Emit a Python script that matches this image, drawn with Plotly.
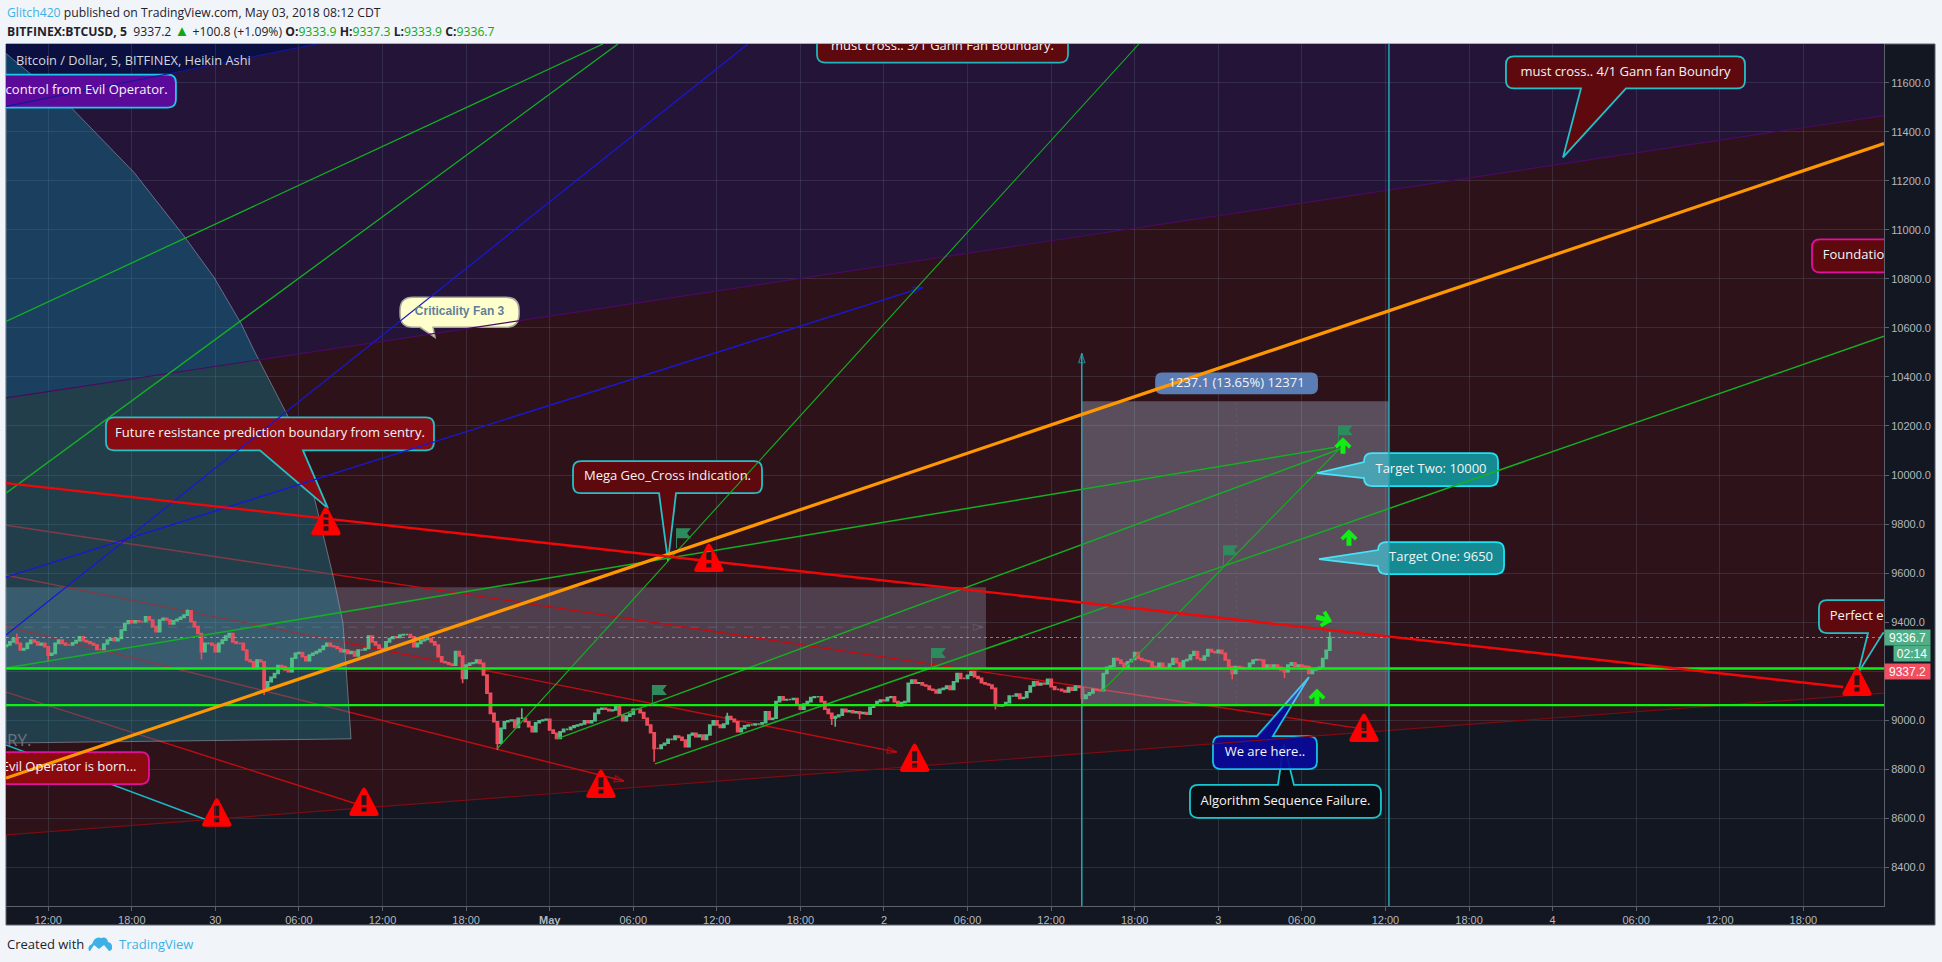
import math
import pandas as pd
import plotly.graph_objects as go

# ---------- time base: every x value below is "hours after 29 Apr 2018 12:00" ----------
BASE = pd.Timestamp("2018-04-29 12:00")
X_RANGE_H = [-3.03, 131.79]
Y_RANGE = [8241, 11759]

TICK_H = [0, 6, 12, 18, 24, 30, 36, 42, 48, 54, 60, 66, 72, 78, 84, 90, 96, 102, 108, 114, 120, 126]
TICK_TEXT = ["12:00", "18:00", "30", "06:00", "12:00", "18:00", "<b>May</b>", "06:00", "12:00", "18:00",
             "2", "06:00", "12:00", "18:00", "3", "06:00", "12:00", "18:00", "4", "06:00", "12:00", "18:00"]
Y_TICKS = [8400, 8600, 8800, 9000, 9200, 9400, 9600, 9800, 10000, 10200, 10400, 10600, 10800, 11000, 11200, 11400, 11600]

# ---------- BTCUSD closes, one per 15 minutes, starting at h = -3 ----------
CLOSE = [
 9306,9319,9333,9313,9286,9292,9313,9326,9319,9306,9313,9299,9265,9272,9313,9326,
 9313,9306,9306,9315,9324,9340,9324,9319,9313,9306,9288,9288,9310,9326,9333,9324,
 9333,9367,9394,9405,9397,9405,9401,9401,9421,9408,9381,9360,9408,9415,9408,9392,
 9405,9411,9419,9428,9446,9401,9381,9353,9279,9313,9313,9306,9279,9313,9326,9343,
 9353,9319,9313,9313,9286,9245,9238,9211,9245,9238,9129,9156,9174,9190,9222,9218,
 9204,9197,9252,9272,9275,9258,9242,9265,9272,9279,9288,9302,9313,9302,9299,9292,
 9279,9286,9272,9279,9261,9286,9286,9292,9343,9319,9306,9292,9286,9319,9333,9340,
 9337,9347,9349,9349,9340,9299,9313,9324,9329,9333,9319,9306,9258,9238,9234,9228,
 9224,9279,9261,9170,9224,9231,9234,9245,9231,9184,9109,9027,8993,8905,8966,8993,
 8997,9000,8970,9007,9007,8993,8973,8952,8989,8997,9000,9003,8959,8946,8925,8952,
 8962,8962,8970,8976,8980,8984,8997,8989,8997,9027,9044,9048,9044,9038,9041,9057,
 9020,8997,9016,9024,9044,9044,9030,9007,8980,8948,8884,8884,8898,8905,8921,8921,
 8935,8929,8918,8891,8939,8946,8932,8939,8921,8939,8980,8997,8980,8970,8984,9014,
 9003,8993,8952,8966,8976,8980,8980,8984,8984,8989,9034,9003,9007,9075,9095,9082,
 9084,9084,9088,9061,9044,9065,9075,9092,9095,9095,9075,9044,9027,9007,9014,9020,
 9044,9034,9038,9030,9034,9027,9030,9024,9052,9061,9075,9082,9079,9092,9095,9075,
 9057,9071,9075,9150,9163,9150,9152,9143,9139,9125,9122,9111,9125,9129,9139,9125,
 9156,9190,9170,9170,9183,9197,9177,9170,9152,9147,9143,9129,9061,9057,9061,9071,
 9098,9098,9106,9088,9092,9115,9139,9156,9143,9150,9147,9166,9136,9125,9125,9120,
 9115,9133,9122,9139,9133,9088,9102,9111,9125,9122,9120,9190,9215,9220,9251,9245,
 9231,9211,9238,9247,9275,9251,9245,9242,9238,9218,9215,9231,9215,9215,9228,9251,
 9234,9215,9242,9247,9265,9279,9251,9245,9261,9288,9279,9275,9285,9272,9245,9218,
 9190,9218,9215,9211,9211,9231,9245,9247,9245,9211,9224,9215,9224,9215,9204,9197,
 9224,9234,9220,9224,9220,9218,9190,9204,9207,9215,9251,9285,9336.7,
]
HIGH_WICKS = {3: 9353, 52: 9452, 148: 9048, 207: 9030, 380: 9360}
LOW_WICKS = {12: 9238, 56: 9247, 74: 9102, 131: 9150, 141: 8878, 186: 8830, 237: 8980,
             238: 8973, 245: 9003, 284: 9043, 309: 9068, 352: 9166, 367: 9170}

# ---------- drawn objects (hours, price) ----------
NAVY_H, NAVY_P = [-3.03, 19.3, -3.03], [11504, 11759, 11759]
PURPLE_H, PURPLE_P = [-3.03, 131.79, 131.79, -3.03], [10315, 11467, 11759, 11759]
FAN_H, FAN_P = [-3.03, 131.79, 131.79, -3.03], [8531, 9110, 11467, 10315]
FAN_TOP_H, FAN_TOP_P = [-3.03, 131.79], [10315, 11467]
FAN_LOW_H, FAN_LOW_P = [-3.03, 131.79], [8531, 9110]
NAVY_EDGE_H, NAVY_EDGE_P = [-3.03, 19.3], [11504, 11759]

FIB_H = [-3.03, 1.64, 6.16, 9.82, 11.9, 13.84, 14.77, 17.36, 19.15, 20.52, 21.16, 21.74, -3.03]
FIB_P = [11720, 11500, 11235, 10970, 10807, 10619, 10509, 10223, 9897, 9571, 9396, 8923, 8906]
RECT1_H, RECT1_P = [-3.03, 67.32, 67.32, -3.03], [9542, 9542, 9210, 9210]
RECT2_H, RECT2_P = [74.2, 96.25, 96.25, 74.2], [10301, 10301, 9061, 9061]

RED_MAIN_H, RED_MAIN_P = [-3.03, 128.85], [9967, 9135]
RED_A_H, RED_A_P = [-3.03, 94.5], [9795, 8963]
RED_B_H, RED_B_P = [-3.03, 60.93], [9591, 8869]
RED_C_H, RED_C_P = [-3.03, 41.34], [9383, 8751]
RED_D_H, RED_D_P = [-3.03, 22.6], [9114, 8649]
ORANGE_H, ORANGE_P = [-3.03, 131.79], [8763, 11353]
GREEN1_H, GREEN1_P = [-3.03, 92.37], [9212, 10113]
GREEN2_H, GREEN2_P = [32.22, 78.3], [8882, 11759]
GREEN2B_H, GREEN2B_P = [75.65, 92.73], [9118, 10109]
GREEN3_H, GREEN3_P = [36.52, 92.88], [8923, 10109]
GREEN4_H, GREEN4_P = [43.56, 131.79], [8821, 10566]
GREEN5_H, GREEN5_P = [-3.03, 39.83], [10627, 11759]
GREEN6_H, GREEN6_P = [-3.03, 40.9], [9926, 11759]
BLUE1_H, BLUE1_P = [-3.03, 50.23], [9347, 11759]
BLUE2_H, BLUE2_P = [-3.03, 62.8], [9583, 10766]
EVIL_TAIL_H, EVIL_TAIL_P = [-3.03, 11.4], [8898, 8592]
H_LEVELS = [9210, 9061]
LAST_PRICE = 9336.7
DASH_H, DASH_P = [-3.03, 67.1], [9379, 9379]
VLINE1_H, VLINE1_P = [74.2, 74.2], [8241, 10497]
VLINE2_H, VLINE2_P = [96.25, 96.25], [8241, 11759]
VDOT_H, VDOT_P = [85.3, 85.3], [9061, 10301]

WARN_H = [19.94, 12.1, 22.67, 39.68, 47.43, 62.2, 94.46, 129.85]
WARN_P = [9754, 8564, 8608, 8682, 9604, 8788, 8910, 9098]
FLAG_H = [43.34, 63.37, 45.07, 84.34, 92.59]
FLAG_P = [9061, 9212, 9701, 9632, 10121]
ARROW_H = [92.95, 93.38, 91.58, 91.08]
ARROW_P = [10119, 9744, 9412, 9094]
ARROW_ROT = [0, 0, 105, 0]

# callouts: text, box centre (h, price), text centre (h, price)
CALL_TEXT = ["must cross.. 3/1 Gann Fan Boundary.", "must cross.. 4/1 Gann fan Boundry",
             "Future resistance prediction boundary from sentry.", "Mega Geo_Cross indication.",
             "Target Two: 10000", "Target One: 9650", "Algorithm Sequence Failure.", "We are here..",
             "Evil Operator is born...", "control from Evil Operator.", "1237.1 (13.65%) 12371"]
CALL_H = [64.2, 113.23, 15.92, 44.46, 99.27, 99.99, 88.82, 87.35, -0.59, -1.6, 85.31]
CALL_P = [11773, 11643, 10168, 9991, 10022, 9661, 8668, 8867, 8804, 11567, 10374]
TEXT_H = [64.2, 113.23, 15.92, 44.46, 99.27, 99.99, 88.82, 87.35, 1.5, 2.76, 85.31]
TEXT_P = [11749, 11643, 10168, 9991, 10022, 9661, 8668, 8867, 8804, 11567, 10374]
EDGE_TEXT = ["Foundation", "Perfect e"]
EDGE_BOX_H, EDGE_BOX_P = [133.8, 134.3], [10894, 9422]
EDGE_TEXT_H = [127.4, 127.9]
CRIT_TEXT, CRIT_H, CRIT_P = "Criticality Fan 3", 29.53, 10664

# ---------- styling (pixel sizes relative to each anchor) ----------
CALL_STYLE = [
    dict(w=125.5, h=22, fill="#5e090e", line="#23b5bd", tail=None),
    dict(w=119.5, h=16, fill="#5e090e", line="#23c0c8", tail=("bottom", -44.5, 0.5, -62.5, -85)),
    dict(w=164, h=16.5, fill="#8a0c12", line="#23c0c8", tail=("bottom", -10, 33, 58, -74.5)),
    dict(w=94.5, h=16, fill="#5e090e", line="#23c0c8", tail=("bottom", -8.5, 8.5, 0.5, -84)),
    dict(w=67, h=16.5, fill="#168a92", line="#18e4f4", tail=("left", -8.5, 7.5, -114, -3.5)),
    dict(w=63, h=16, fill="#168a92", line="#18e4f4", tail=("left", -8, 8, -122, -1)),
    dict(w=95.5, h=16.5, fill="#0a0d13", line="#18c8d0", tail=("top", -7.5, 8.5, -1.5, 57.5)),
    dict(w=52, h=16.5, fill="rgba(10,10,154,0.92)", line="#15c0e8", tail=("top", -8, 8, 44, 75.5)),
    dict(w=109, h=16, fill="#8a0a10", line="#e0109a", tail=None),
    dict(w=150, h=16.5, fill="#5c0a9a", line="#20c8e8", tail=None),
    dict(w=80.5, h=10, fill="#5a7db5", line="#5a7db5", tail=None),
]
EDGE_STYLE = [
    dict(w=100, h=16.5, fill="#5e090e", line="#e010a0", tail=None),
    dict(w=100, h=16.5, fill="#5e090e", line="#23c0c8", tail=("bottom", -51, -36, -61, -56.5)),
]
CRIT_STYLE = dict(w=59.5, h=15, fill="#ffffcc", line="#a8a89c", tail=("bottom", -39.5, -26.5, -24.5, -25))

UP, DOWN = "#53b987", "#eb4d5c"
FONT = "Open Sans"


def T(h):
    return (BASE + pd.to_timedelta(h, unit="h")).strftime("%Y-%m-%d %H:%M:%S")


def TS(hs):
    return [T(h) for h in hs]


def region(hs, ps, color, layer="below", edge=None):
    pts = [f"{T(h).replace(' ', '_')},{p}" for h, p in zip(hs, ps)]
    return dict(type="path", xref="x", yref="y", layer=layer, fillcolor=color,
                line=dict(color=edge or "rgba(0,0,0,0)", width=1 if edge else 0),
                path="M" + " L".join(pts) + " Z")


def seg(hs, ps, color, width, layer="between"):
    return dict(type="line", xref="x", yref="y", layer=layer, x0=T(hs[0]), x1=T(hs[1]), y0=ps[0], y1=ps[1],
                line=dict(color=color, width=width))


def box_path(w, h, r=7, tail=None):
    side, a, b, tx, ty = tail if tail else (None, 0, 0, 0, 0)
    p = [f"M {-w + r} {h}"]
    if side == "top":
        p.append(f"L {a} {h} L {tx} {ty} L {b} {h}")
    p.append(f"L {w - r} {h} Q {w} {h} {w} {h - r} L {w} {-h + r} Q {w} {-h} {w - r} {-h}")
    if side == "bottom":
        p.append(f"L {b} {-h} L {tx} {ty} L {a} {-h}")
    p.append(f"L {-w + r} {-h} Q {-w} {-h} {-w} {-h + r}")
    if side == "left":
        p.append(f"L {-w} {a} L {tx} {ty} L {-w} {b}")
    p.append(f"L {-w} {h - r} Q {-w} {h} {-w + r} {h} Z")
    return " ".join(p)


def anchored(h, p, path, fill, line="rgba(0,0,0,0)", lw=0, layer="between"):
    return dict(type="path", xref="x", yref="y", xsizemode="pixel", ysizemode="pixel",
                xanchor=T(h), yanchor=p, path=path, fillcolor=fill, layer=layer,
                line=dict(color=line, width=lw))


def px(x):
    return (x - 6) / 1878


def py(y):
    return (906 - y) / 862.5


WARN_PATH = ("M -12 0 Q -16 0 -14 4 L -2 27 Q 0 30 2 27 L 14 4 Q 16 0 12 0 Z "
             "M -2.5 11 L 2.5 11 L 2.5 21 L -2.5 21 Z M -2.5 4.5 L 2.5 4.5 L 2.5 9 L -2.5 9 Z")
FLAG_PATH = "M 0 0 L 1 0 L 1 10 L 15 10 L 11 15 L 15 20 L 0 20 Z"
ARROW_PTS = [(0, 8.5), (8.5, 0), (6, -2.8), (2.5, 0.6), (2.5, -8), (-2.5, -8), (-2.5, 0.6), (-6, -2.8), (-8.5, 0)]


def arrow_path(deg):
    a = math.radians(deg)
    pts = [(x * math.cos(a) + y * math.sin(a), -x * math.sin(a) + y * math.cos(a)) for x, y in ARROW_PTS]
    return "M " + " L ".join(f"{x:.2f} {y:.2f}" for x, y in pts) + " Z"


# ---------- figure ----------
fig = go.Figure()

opens = [9300] + CLOSE[:-1]
candle_h = [-3 + i * 0.25 for i in range(len(CLOSE))]
highs = [max(o, c, HIGH_WICKS.get(i, 0)) for i, (o, c) in enumerate(zip(opens, CLOSE))]
lows = [min(o, c, LOW_WICKS.get(i, 99999)) for i, (o, c) in enumerate(zip(opens, CLOSE))]
fig.add_trace(go.Candlestick(
    x=TS(candle_h), open=opens, high=highs, low=lows, close=CLOSE, whiskerwidth=0,
    increasing=dict(line=dict(color=UP, width=1.6), fillcolor=UP),
    decreasing=dict(line=dict(color=DOWN, width=1.6), fillcolor=DOWN), hoverinfo="skip"))


def line(hs, ps, color, width=1.0, dash=None, arrow=False):
    if arrow:
        kw = dict(mode="lines+markers",
                  marker=dict(symbol="arrow-open", size=[0, 10], angleref="previous",
                              color=color, line=dict(color=color, width=1.2)))
    else:
        kw = dict(mode="lines")
    fig.add_trace(go.Scatter(x=TS(hs), y=ps, line=dict(color=color, width=width, dash=dash), hoverinfo="skip", **kw))


def arrow_only(hs, ps, color):
    fig.add_trace(go.Scatter(x=TS(hs), y=ps, mode="markers", hoverinfo="skip",
                             marker=dict(symbol="arrow-open", size=[0, 10], angleref="previous",
                                         color=color, line=dict(color=color, width=1.2))))


fig.add_trace(go.Scatter(x=[T(-2.96)], y=[8910], mode="text", text=["RY."], textposition="middle right",
                         textfont=dict(color="#6d7480", size=17, family=FONT), hoverinfo="skip"))
arrow_only(RED_B_H, RED_B_P, "#c00d12")
arrow_only(RED_C_H, RED_C_P, "#c00d12")
line(DASH_H, DASH_P, "rgba(150,155,170,0.28)", 1, dash="dash", arrow=True)
line(X_RANGE_H, [LAST_PRICE, LAST_PRICE], "rgba(160,205,185,0.65)", 1, dash="dot")
line(VDOT_H, VDOT_P, "rgba(120,125,140,0.25)", 1, dash="dot")
line(FAN_TOP_H, FAN_TOP_P, "#4a0a62", 1.2)
line(FAN_LOW_H, FAN_LOW_P, "#7a0c12", 1.2)
line(NAVY_EDGE_H, NAVY_EDGE_P, "#16169a", 1.2)
line(BLUE1_H, BLUE1_P, "#1818d8", 1.2)
line(BLUE2_H, BLUE2_P, "#1818d8", 1.4, arrow=True)
line(VLINE1_H, VLINE1_P, "#27a6b5", 1.5, arrow=True)
line(VLINE2_H, VLINE2_P, "#27a6b5", 1.5)
for hs, ps, w in [(GREEN5_H, GREEN5_P, 1.3), (GREEN6_H, GREEN6_P, 1.3), (GREEN1_H, GREEN1_P, 1.5),
                  (GREEN2_H, GREEN2_P, 1.1), (GREEN2B_H, GREEN2B_P, 1.1), (GREEN3_H, GREEN3_P, 1.5),
                  (GREEN4_H, GREEN4_P, 1.5)]:
    line(hs, ps, "#12b022", w)
for lvl in H_LEVELS:
    line(X_RANGE_H, [lvl, lvl], "#0fef12", 2.4)
line(ORANGE_H, ORANGE_P, "#ff9800", 3.2)
line(RED_MAIN_H, RED_MAIN_P, "#f00808", 2.4)

# callout labels as clipped text
fig.add_trace(go.Scatter(x=TS(TEXT_H), y=TEXT_P, mode="text", text=CALL_TEXT, textposition="middle center",
                         textfont=dict(color="#f4f4f6", size=13, family=FONT), hoverinfo="skip"))
fig.add_trace(go.Scatter(x=TS(EDGE_TEXT_H), y=EDGE_BOX_P, mode="text", text=EDGE_TEXT, textposition="middle right",
                         textfont=dict(color="#f4f4f6", size=13, family=FONT), hoverinfo="skip"))
fig.add_trace(go.Scatter(x=[T(CRIT_H)], y=[CRIT_P], mode="text", text=[f"<b>{CRIT_TEXT}</b>"], textposition="middle center",
                         textfont=dict(color="#5f7f9a", size=12, family="Liberation Sans"), hoverinfo="skip"))

shapes = [
    dict(type="rect", xref="paper", yref="paper", x0=0, x1=px(1935), y0=py(925), y1=1, layer="below",
         fillcolor="#131722", line=dict(color="#5c616c", width=1)),
    region(FAN_H, FAN_P, "#2e1219"),
    region(PURPLE_H, PURPLE_P, "#231438"),
    region(NAVY_H, NAVY_P, "#0c1040"),
    region(RECT1_H, RECT1_P, "rgba(178,198,237,0.25)", layer="between"),
    seg(EVIL_TAIL_H, EVIL_TAIL_P, "#18b8c8", 1.5),
    seg(RED_A_H, RED_A_P, "#c00d12", 1.4),
    seg(RED_B_H, RED_B_P, "#c00d12", 1.4),
    seg(RED_C_H, RED_C_P, "#c00d12", 1.4),
    seg(RED_D_H, RED_D_P, "#c00d12", 1.4),
    region(FIB_H, FIB_P, "rgba(15,146,170,0.35)", layer="between", edge="rgba(170,180,190,0.5)"),
]
for h, p, st in zip(CALL_H, CALL_P, CALL_STYLE):
    shapes.append(anchored(h, p, box_path(st["w"], st["h"], 6 if st["h"] < 12 else 8, st["tail"]), st["fill"], st["line"], 1.8))
for h, p, st in zip(EDGE_BOX_H, EDGE_BOX_P, EDGE_STYLE):
    shapes.append(anchored(h, p, box_path(st["w"], st["h"], 8, st["tail"]), st["fill"], st["line"], 1.8))
shapes.append(anchored(CRIT_H, CRIT_P, box_path(CRIT_STYLE["w"], CRIT_STYLE["h"], 13, CRIT_STYLE["tail"]),
                       CRIT_STYLE["fill"], CRIT_STYLE["line"], 1.5))
shapes.append(region(RECT2_H, RECT2_P, "rgba(193,214,248,0.30)", layer="between"))
for h, p in zip(FLAG_H, FLAG_P):
    shapes.append(anchored(h, p, FLAG_PATH, "#2e8b5e", layer="above"))
for h, p in zip(WARN_H, WARN_P):
    shapes.append(anchored(h, p, WARN_PATH, "#fe0000", layer="above"))
for h, p, r in zip(ARROW_H, ARROW_P, ARROW_ROT):
    shapes.append(anchored(h, p, arrow_path(r), "#0fef12", layer="above"))
shapes.append(dict(type="path", xref="paper", yref="paper", xsizemode="pixel", ysizemode="pixel",
                   xanchor=px(88), yanchor=py(951), fillcolor="#3db1e6", line_width=0,
                   path="M 1 0 Q -1 5 4 7 Q 7 15 13 13 Q 19 15 20 9 Q 25 8 24 2 Q 23 0 21 0 L 16 6 L 11 2 L 6 6 L 2 0 Z"))


def note(x, y, text, size=12.5, color="#1e222d", **kw):
    return dict(xref="paper", yref="paper", x=px(x), y=py(y), xanchor="left", yanchor="middle", text=text,
                showarrow=False, font=dict(family=FONT, size=size, color=color), **kw)


G = "#10a810"
annotations = [
    note(5, 12, '<span style="color:#3db1e6">Glitch420</span> published on TradingView.com, May 03, 2018 08:12 CDT', size=12.2),
    note(5, 29, f'<b>BITFINEX:BTCUSD, 5</b>  9337.2 <span style="color:{G};font-size:15px">▲</span> +100.8 (+1.09%) '
                f'<b>O:</b><span style="color:{G}">9333.9</span> <b>H:</b><span style="color:{G}">9337.3</span> '
                f'<b>L:</b><span style="color:{G}">9333.9</span> <b>C:</b><span style="color:{G}">9336.7</span>', size=12.2),
    note(5, 944, "Created with", size=13),
    note(117, 944, "TradingView", size=13, color="#3db1e6"),
    note(14, 60, "Bitcoin / Dollar, 5, BITFINEX, Heikin Ashi", size=12.8, color="#d4d6dc"),
]
for y, text, color, x0, w in [(LAST_PRICE, "9336.7", "#4fae85", 1884, 45), (9272, "02:14", "#4fae85", 1893, 36),
                              (9200, "9337.2", "#ef4f60", 1884, 45)]:
    annotations.append(dict(xref="paper", yref="y", x=px(x0), y=y, xanchor="left", yanchor="middle", text=text,
                            showarrow=False, bgcolor=color, width=w, height=15, borderpad=0, align="center",
                            font=dict(family="Liberation Sans", size=12, color="#ffffff")))

fig.update_layout(
    width=1942, height=962, margin=dict(l=6, r=58, t=43.5, b=56, pad=0, autoexpand=False),
    paper_bgcolor="#f1f5f9", plot_bgcolor="#131722", showlegend=False, shapes=shapes, annotations=annotations,
    boxgap=0.08,
    xaxis=dict(type="date", range=[T(X_RANGE_H[0]), T(X_RANGE_H[1])], rangeslider=dict(visible=False),
               tickmode="array", tickvals=TS(TICK_H), ticktext=TICK_TEXT, ticks="outside", ticklen=4,
               tickcolor="#5c616c", tickfont=dict(family="Liberation Sans", size=11, color="#b4b7bf"),
               gridcolor="rgba(110,115,135,0.26)", gridwidth=1, showline=True, linecolor="#5c616c", zeroline=False),
    yaxis=dict(range=Y_RANGE, side="right", tickmode="array", tickvals=Y_TICKS,
               ticktext=[f"{v}.0" for v in Y_TICKS], ticks="outside", ticklen=4, tickcolor="#5c616c",
               tickfont=dict(family="Liberation Sans", size=11, color="#b4b7bf"),
               gridcolor="rgba(110,115,135,0.26)", gridwidth=1, showline=True, linecolor="#5c616c", zeroline=False),
)

fig.write_html("out.html", config={"displayModeBar": False},
               post_script="document.body.style.margin='0';document.body.style.overflow='hidden';"
                           "document.body.style.background='#f1f5f9';")
